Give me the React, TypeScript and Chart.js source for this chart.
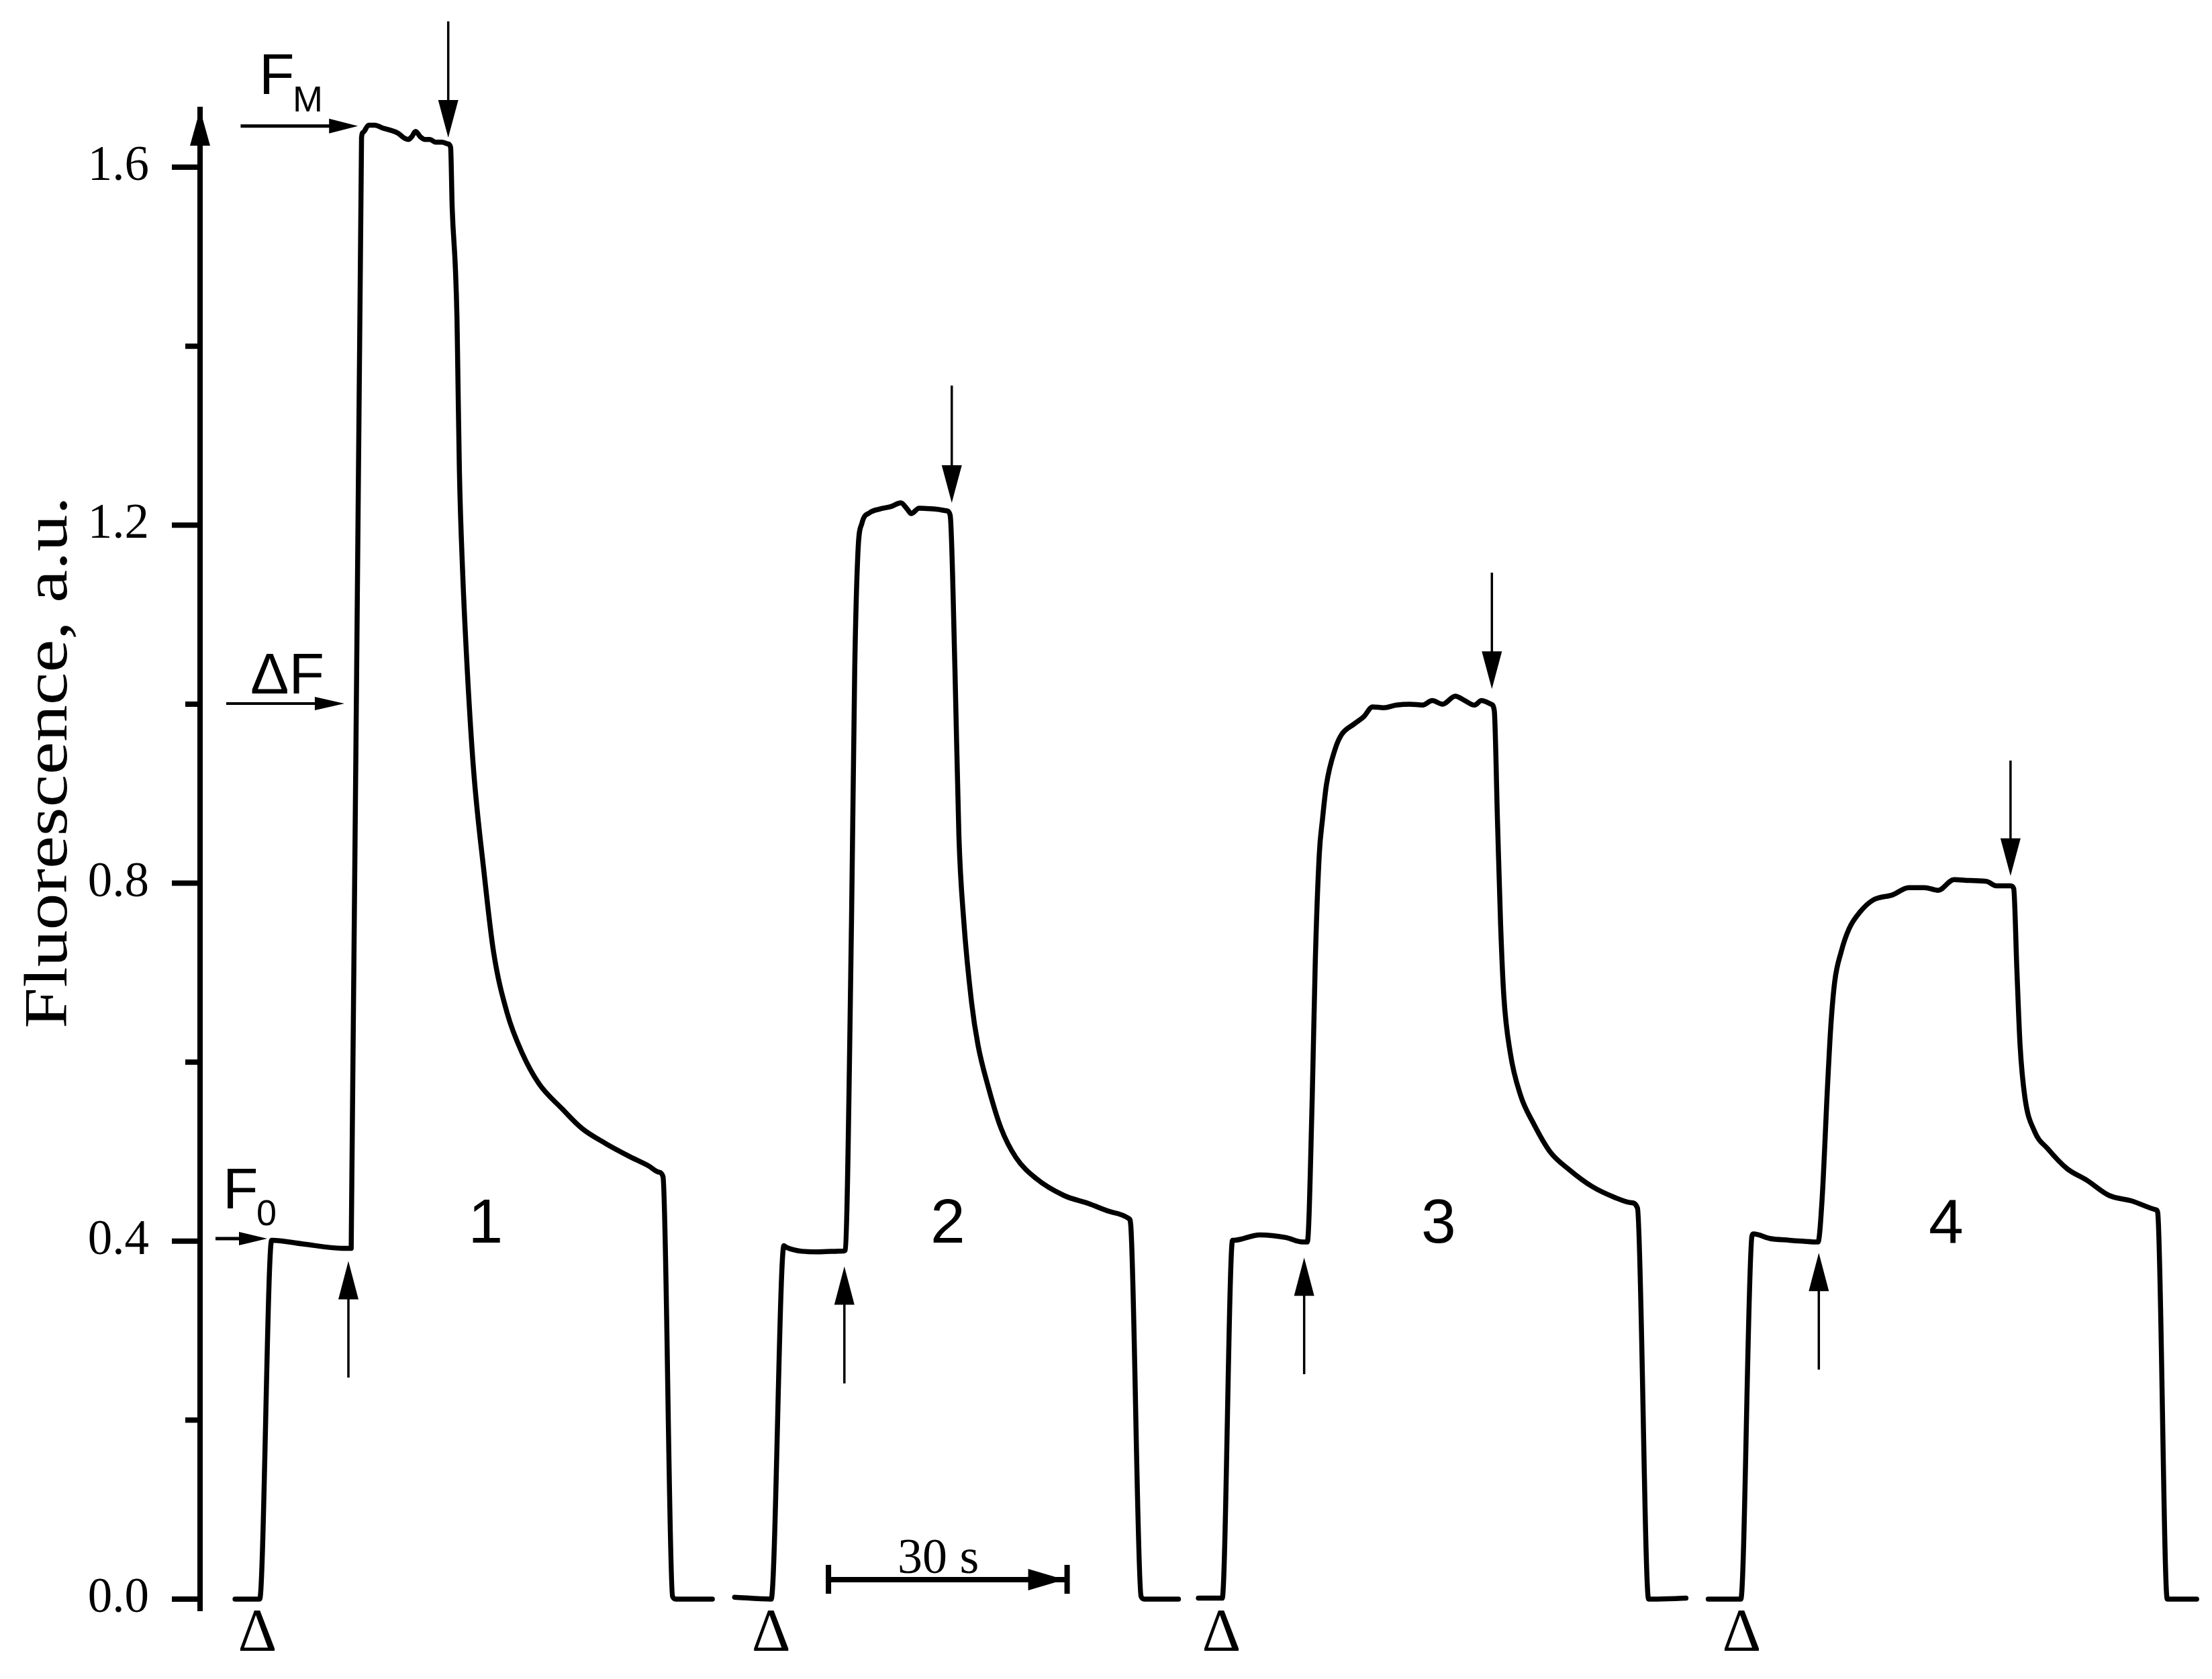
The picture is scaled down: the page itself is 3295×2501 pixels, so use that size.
import React, { useEffect, useRef } from "react";
import { Chart, registerables } from "chart.js";

Chart.register(...registerables);

// ---- Data (time in s, fluorescence in a.u.) ----
const T1_TIME = [4.4, 7.5, 9.0, 12.8, 17.9, 19.0, 20.3, 20.5, 21.2, 22.0, 22.9, 23.7, 24.9, 25.6, 26.2, 26.6, 27.1, 27.7, 28.3, 28.9, 29.6, 30.4, 31.2, 31.5, 31.7, 32.1, 32.3, 32.4, 32.6, 33.0, 33.6, 34.4, 35.7, 36.9, 38.6, 40.5, 42.6, 45.5, 48.0, 51.0, 53.9, 56.4, 57.7, 58.2, 59.4, 59.8, 64.4];
const T1_FLUOR = [0.0, 0.0, 0.401, 0.397, 0.392, 0.392, 1.633, 1.639, 1.647, 1.647, 1.644, 1.642, 1.638, 1.633, 1.631, 1.634, 1.640, 1.634, 1.631, 1.631, 1.628, 1.628, 1.626, 1.622, 1.554, 1.487, 1.431, 1.375, 1.262, 1.150, 1.037, 0.925, 0.812, 0.723, 0.655, 0.610, 0.576, 0.548, 0.526, 0.509, 0.495, 0.484, 0.477, 0.472, 0.003, 0.0, 0.0];

const T2_TIME = [67.2, 71.8, 73.4, 73.7, 77.6, 80.9, 81.1, 81.9, 82.3, 82.7, 83.2, 84.2, 85.4, 86.9, 88.1, 88.9, 89.4, 90.4, 92.4, 93.9, 94.3, 94.9, 95.4, 96.0, 97.0, 97.8, 99.1, 100.7, 102.6, 105.1, 108.6, 111.7, 114.8, 116.8, 117.0, 118.3, 118.7, 123.0];
const T2_FLUOR = [0.002, 0.0, 0.395, 0.393, 0.388, 0.389, 0.390, 0.759, 1.039, 1.169, 1.202, 1.214, 1.218, 1.221, 1.225, 1.218, 1.213, 1.219, 1.218, 1.216, 1.211, 1.039, 0.852, 0.759, 0.666, 0.619, 0.572, 0.526, 0.493, 0.470, 0.451, 0.442, 0.432, 0.425, 0.418, 0.003, 0.0, 0.0];

const T3_TIME = [125.5, 128.5, 129.8, 130.0, 133.2, 136.5, 138.6, 139.2, 139.8, 140.2, 140.7, 141.1, 141.6, 142.7, 143.5, 145.1, 146.3, 147.4, 148.8, 150.4, 152.1, 153.7, 154.9, 156.2, 157.8, 159.0, 160.2, 161.1, 162.3, 162.7, 163.1, 163.5, 163.9, 164.7, 166.0, 167.6, 169.7, 172.1, 175.0, 177.8, 179.9, 180.7, 182.1, 182.7, 186.8];
const T3_FLUOR = [0.001, 0.001, 0.401, 0.401, 0.407, 0.404, 0.399, 0.399, 0.555, 0.713, 0.832, 0.871, 0.910, 0.950, 0.966, 0.978, 0.986, 0.997, 0.996, 0.999, 1.000, 0.999, 1.004, 1.000, 1.009, 1.004, 0.999, 1.004, 1.000, 0.993, 0.871, 0.753, 0.674, 0.611, 0.563, 0.532, 0.500, 0.480, 0.461, 0.449, 0.443, 0.437, 0.0, 0.0, 0.001];

const T4_TIME = [189.6, 193.7, 195.1, 195.3, 197.3, 199.8, 201.4, 203.4, 203.9, 204.6, 205.0, 205.5, 206.3, 207.3, 208.7, 210.3, 212.8, 214.8, 216.8, 218.5, 220.5, 222.5, 224.6, 225.8, 227.6, 228.0, 228.4, 228.8, 229.4, 230.6, 232.3, 234.7, 237.2, 240.0, 242.8, 245.9, 246.1, 247.3, 247.7, 251.0];
const T4_FLUOR = [0.0, 0.0, 0.406, 0.408, 0.403, 0.401, 0.400, 0.399, 0.445, 0.574, 0.639, 0.690, 0.723, 0.749, 0.768, 0.781, 0.787, 0.795, 0.795, 0.792, 0.804, 0.803, 0.802, 0.797, 0.797, 0.794, 0.703, 0.619, 0.561, 0.523, 0.503, 0.481, 0.468, 0.451, 0.445, 0.435, 0.432, 0.0, 0.0, 0.0];

const TRACES = [
  [T1_TIME, T1_FLUOR],
  [T2_TIME, T2_FLUOR],
  [T3_TIME, T3_FLUOR],
  [T4_TIME, T4_FLUOR],
];

// axis
const Y_MIN = -0.0128;
const Y_MAX = 1.6646;
const X_MIN = 0;
const X_MAX = 252;
const Y_MAJOR_TICKS = [0, 0.4, 0.8, 1.2, 1.6];
const Y_MINOR_TICKS = [0.2, 0.6, 1.0, 1.4];
const Y_TITLE = "Fluorescence, a.u.";

// trace numbers
const TRACE_LABELS = ["1", "2", "3", "4"];
const TRACE_LABEL_T = [35.9, 94.0, 155.7, 219.5];
const TRACE_LABEL_V = 0.398;

// measuring light on (Δ markers)
const DELTA_T = [7.2, 71.8, 128.4, 193.8];
const DELTA_V = -0.058;

// actinic light on (up arrows) / off (down arrows)
const UP_T = [18.65, 81.0, 138.8, 203.5];
const UP_BOTTOM = [0.2475, 0.241, 0.2513, 0.2564];
const UP_TIP = [0.3776, 0.3716, 0.3816, 0.3868];
const DOWN_T = [31.2, 94.5, 162.4, 227.6];
const DOWN_TOP = [1.763, 1.356, 1.147, 0.937];
const DOWN_TIP = [1.633, 1.225, 1.017, 0.808];

// level markers
const FM_ARROW = { t0: 5.1, t1: 19.85, v: 1.646 };
const FM_TEXT = { t: 7.43, v: 1.6818, subT: 11.65, subV: 1.6623 };
const F0_ARROW = { t0: 1.94, t1: 8.44, v: 0.4028 };
const F0_TEXT = { t: 2.87, v: 0.4366, subT: 7.09, subV: 0.4178 };
const DF_ARROW = { t0: 3.29, t1: 18.14, v: 1.0007 };
const DF_TEXT = { t: 6.33, v: 1.012 };

// time scale bar
const BAR = { t0: 79.0, t1: 109.0, v: 0.0218, label: "30 s", labelT: 92.8, labelV: 0.0293 };

const SANS = '"Liberation Sans", Arial, sans-serif';
const SERIF = '"Liberation Serif", "Times New Roman", serif';

function drawArrow(ctx: CanvasRenderingContext2D, x1: number, y1: number, x2: number, y2: number, lw: number, headLen: number, headHalf: number) {
  const ang = Math.atan2(y2 - y1, x2 - x1);
  const c = Math.cos(ang), s = Math.sin(ang);
  const bx = x2 - headLen * c, by = y2 - headLen * s;
  ctx.lineWidth = lw;
  ctx.lineCap = "butt";
  ctx.beginPath();
  ctx.moveTo(x1, y1);
  ctx.lineTo(bx + c * 2, by + s * 2);
  ctx.stroke();
  ctx.beginPath();
  ctx.moveTo(x2, y2);
  ctx.lineTo(bx + headHalf * s, by - headHalf * c);
  ctx.lineTo(bx - headHalf * s, by + headHalf * c);
  ctx.closePath();
  ctx.fill();
}

const annotationPlugin = {
  id: "fluoAnnotations",
  afterDraw(chart: any) {
    const ctx: CanvasRenderingContext2D = chart.ctx;
    const xs = chart.scales.x, ys = chart.scales.y;
    const X = (t: number) => xs.getPixelForValue(t);
    const Y = (v: number) => ys.getPixelForValue(v);
    const area = chart.chartArea;
    ctx.save();
    ctx.fillStyle = "#000";
    ctx.strokeStyle = "#000";

    // y axis arrow head
    const ax = area.left;
    ctx.beginPath();
    ctx.moveTo(ax, area.top);
    ctx.lineTo(ax - 15, area.top + 54);
    ctx.lineTo(ax + 15, area.top + 54);
    ctx.closePath();
    ctx.fill();

    // tick marks
    ctx.lineWidth = 8;
    ctx.lineCap = "butt";
    Y_MAJOR_TICKS.forEach((v) => {
      ctx.beginPath();
      ctx.moveTo(ax - 42, Y(v));
      ctx.lineTo(ax, Y(v));
      ctx.stroke();
    });
    Y_MINOR_TICKS.forEach((v) => {
      ctx.beginPath();
      ctx.moveTo(ax - 22, Y(v));
      ctx.lineTo(ax, Y(v));
      ctx.stroke();
    });

    // y title (stretched along its length like the original)
    ctx.save();
    ctx.translate(99, Y(0.935));
    ctx.rotate(-Math.PI / 2);
    ctx.scale(1.22, 1);
    ctx.font = `90px ${SERIF}`;
    ctx.textAlign = "center";
    ctx.textBaseline = "alphabetic";
    ctx.fillText(Y_TITLE, 0, 0);
    ctx.restore();

    // level labels
    ctx.textAlign = "left";
    ctx.textBaseline = "alphabetic";
    ctx.font = `86px ${SANS}`;
    ctx.fillText("F", X(FM_TEXT.t), Y(FM_TEXT.v));
    ctx.fillText("F", X(F0_TEXT.t), Y(F0_TEXT.v));
    ctx.fillText("\u0394F", X(DF_TEXT.t), Y(DF_TEXT.v));
    ctx.font = `54px ${SANS}`;
    ctx.fillText("M", X(FM_TEXT.subT), Y(FM_TEXT.subV));
    ctx.fillText("0", X(F0_TEXT.subT), Y(F0_TEXT.subV));

    drawArrow(ctx, X(FM_ARROW.t0), Y(FM_ARROW.v), X(FM_ARROW.t1), Y(FM_ARROW.v), 5, 43, 11);
    drawArrow(ctx, X(F0_ARROW.t0), Y(F0_ARROW.v), X(F0_ARROW.t1), Y(F0_ARROW.v), 5, 42, 10);
    drawArrow(ctx, X(DF_ARROW.t0), Y(DF_ARROW.v), X(DF_ARROW.t1), Y(DF_ARROW.v), 4, 44, 10);

    // light on/off arrows
    UP_T.forEach((t, i) => drawArrow(ctx, X(t), Y(UP_BOTTOM[i]), X(t), Y(UP_TIP[i]), 3.5, 57, 15));
    DOWN_T.forEach((t, i) => drawArrow(ctx, X(t), Y(DOWN_TOP[i]), X(t), Y(DOWN_TIP[i]), 3.5, 56, 15));

    // trace numbers
    ctx.textAlign = "center";
    ctx.font = `93px ${SANS}`;
    TRACE_LABELS.forEach((s, i) => ctx.fillText(s, X(TRACE_LABEL_T[i]), Y(TRACE_LABEL_V)));

    // Δ markers
    ctx.font = `90px ${SERIF}`;
    DELTA_T.forEach((t) => ctx.fillText("\u0394", X(t), Y(DELTA_V)));

    // time scale bar
    const bx0 = X(BAR.t0), bx1 = X(BAR.t1), by = Y(BAR.v);
    ctx.lineWidth = 8;
    ctx.beginPath();
    ctx.moveTo(bx0, by);
    ctx.lineTo(bx1, by);
    ctx.stroke();
    ctx.beginPath();
    ctx.moveTo(bx0, by - 22);
    ctx.lineTo(bx0, by + 21);
    ctx.moveTo(bx1, by - 22);
    ctx.lineTo(bx1, by + 21);
    ctx.stroke();
    drawArrow(ctx, bx1 - 60, by, bx1 - 4, by, 8, 54, 16);
    ctx.font = `74px ${SERIF}`;
    ctx.fillText(BAR.label, X(BAR.labelT), Y(BAR.labelV));

    ctx.restore();
  },
};

export default function App() {
  const canvasRef = useRef<HTMLCanvasElement | null>(null);

  useEffect(() => {
    const canvas = canvasRef.current;
    if (!canvas) return;
    const chart = new Chart(canvas, {
      type: "line",
      data: {
        datasets: TRACES.map(([times, vals], k) => ({
          label: `Trace ${k + 1}`,
          data: times.map((t, i) => ({ x: t, y: vals[i] })),
          borderColor: "#000",
          borderWidth: 7.5,
          pointRadius: 0,
          cubicInterpolationMode: "monotone" as const,
          fill: false,
          borderJoinStyle: "round" as const,
          borderCapStyle: "round" as const,
          clip: false as any,
        })),
      },
      options: {
        responsive: false,
        animation: false,
        devicePixelRatio: 1,
        layout: { padding: { top: 163, bottom: 102, left: 0, right: 11 } },
        plugins: {
          legend: { display: false },
          tooltip: { enabled: false },
          title: { display: false },
        },
        scales: {
          x: {
            type: "linear",
            min: X_MIN,
            max: X_MAX,
            display: false,
          },
          y: {
            type: "linear",
            min: Y_MIN,
            max: Y_MAX,
            afterFit: (scale: any) => {
              scale.width = 298;
            },
            afterBuildTicks: (scale: any) => {
              scale.ticks = Y_MAJOR_TICKS.map((v) => ({ value: v }));
            },
            grid: { display: false, drawTicks: true, tickLength: 76 },
            border: { display: true, width: 8, color: "#000" },
            ticks: {
              padding: 0,
              color: "#000",
              font: { family: "Liberation Serif", size: 73 },
              callback: (v: any) => Number(v).toFixed(1),
            },
          },
        },
      },
      plugins: [annotationPlugin],
    });
    return () => chart.destroy();
  }, []);

  return (
    <div style={{ position: "absolute", left: 0, top: 0, width: 3295, height: 2501, background: "#fff" }}>
      <canvas ref={canvasRef} width={3295} height={2501} style={{ width: 3295, height: 2501, display: "block" }} />
    </div>
  );
}
